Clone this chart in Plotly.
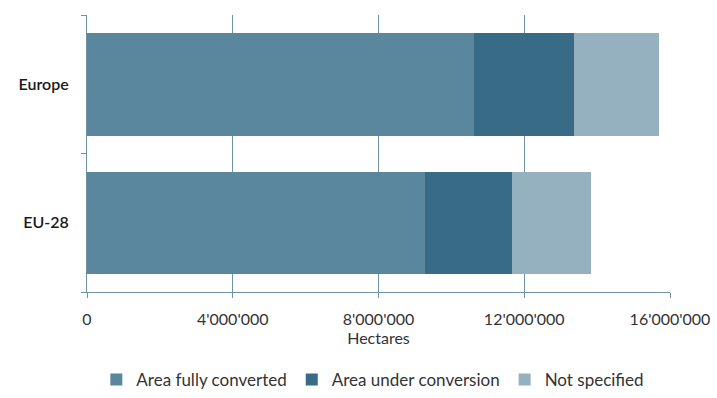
import plotly.graph_objects as go

# Organic agricultural land by conversion status (hectares)
regions = ["Europe", "EU-28"]
fully_converted = [10620000, 9280000]
under_conversion = [2740000, 2390000]
not_specified = [2340000, 2170000]

series = [
    ("Area fully converted", fully_converted, "#5a869e"),
    ("Area under conversion", under_conversion, "#386c86"),
    ("Not specified", not_specified, "#95b0be"),
]

fig = go.Figure()
for name, vals, color in series:
    fig.add_trace(go.Bar(
        y=regions, x=vals, name=name, orientation="h",
        marker=dict(color=color, line=dict(width=0)),
    ))

axis_col = "#6f93a5"
font_family = "Lato, 'Open Sans', sans-serif"

fig.update_layout(
    barmode="stack",
    bargap=0.26,
    width=717, height=398,
    margin=dict(l=87, r=47, t=15, b=106, autoexpand=False),
    plot_bgcolor="white", paper_bgcolor="white",
    separators=".'",
    font=dict(family=font_family, size=16, color="#333333"),
    xaxis=dict(
        range=[0, 16000000],
        tickvals=[0, 4000000, 8000000, 12000000, 16000000],
        tickformat=",d",
        showgrid=True, gridcolor=axis_col, gridwidth=1,
        showline=True, linecolor=axis_col, linewidth=1,
        ticks="outside", ticklen=5, tickcolor=axis_col,
        ticklabelstandoff=8,
        zeroline=False, automargin=False,
        title=dict(text="Hectares", standoff=0, font=dict(size=16)),
        tickfont=dict(size=16, color="#333333"),
    ),
    yaxis=dict(
        categoryorder="array", categoryarray=["EU-28", "Europe"],
        showline=True, linecolor=axis_col, linewidth=1,
        ticks="outside", ticklen=5, tickcolor=axis_col,
        tickson="boundaries",
        showgrid=False, automargin=False,
        tickfont=dict(size=16, color="#1a1a1a", weight=600),
        ticklabelstandoff=14,
    ),
    legend=dict(
        orientation="h", traceorder="normal",
        x=0.52, xanchor="center", xref="container",
        y=0.0, yanchor="bottom", yref="container",
        font=dict(size=17, color="#333333"),
        itemwidth=30, tracegroupgap=0,
    ),
)

fig.write_html("out.html")
